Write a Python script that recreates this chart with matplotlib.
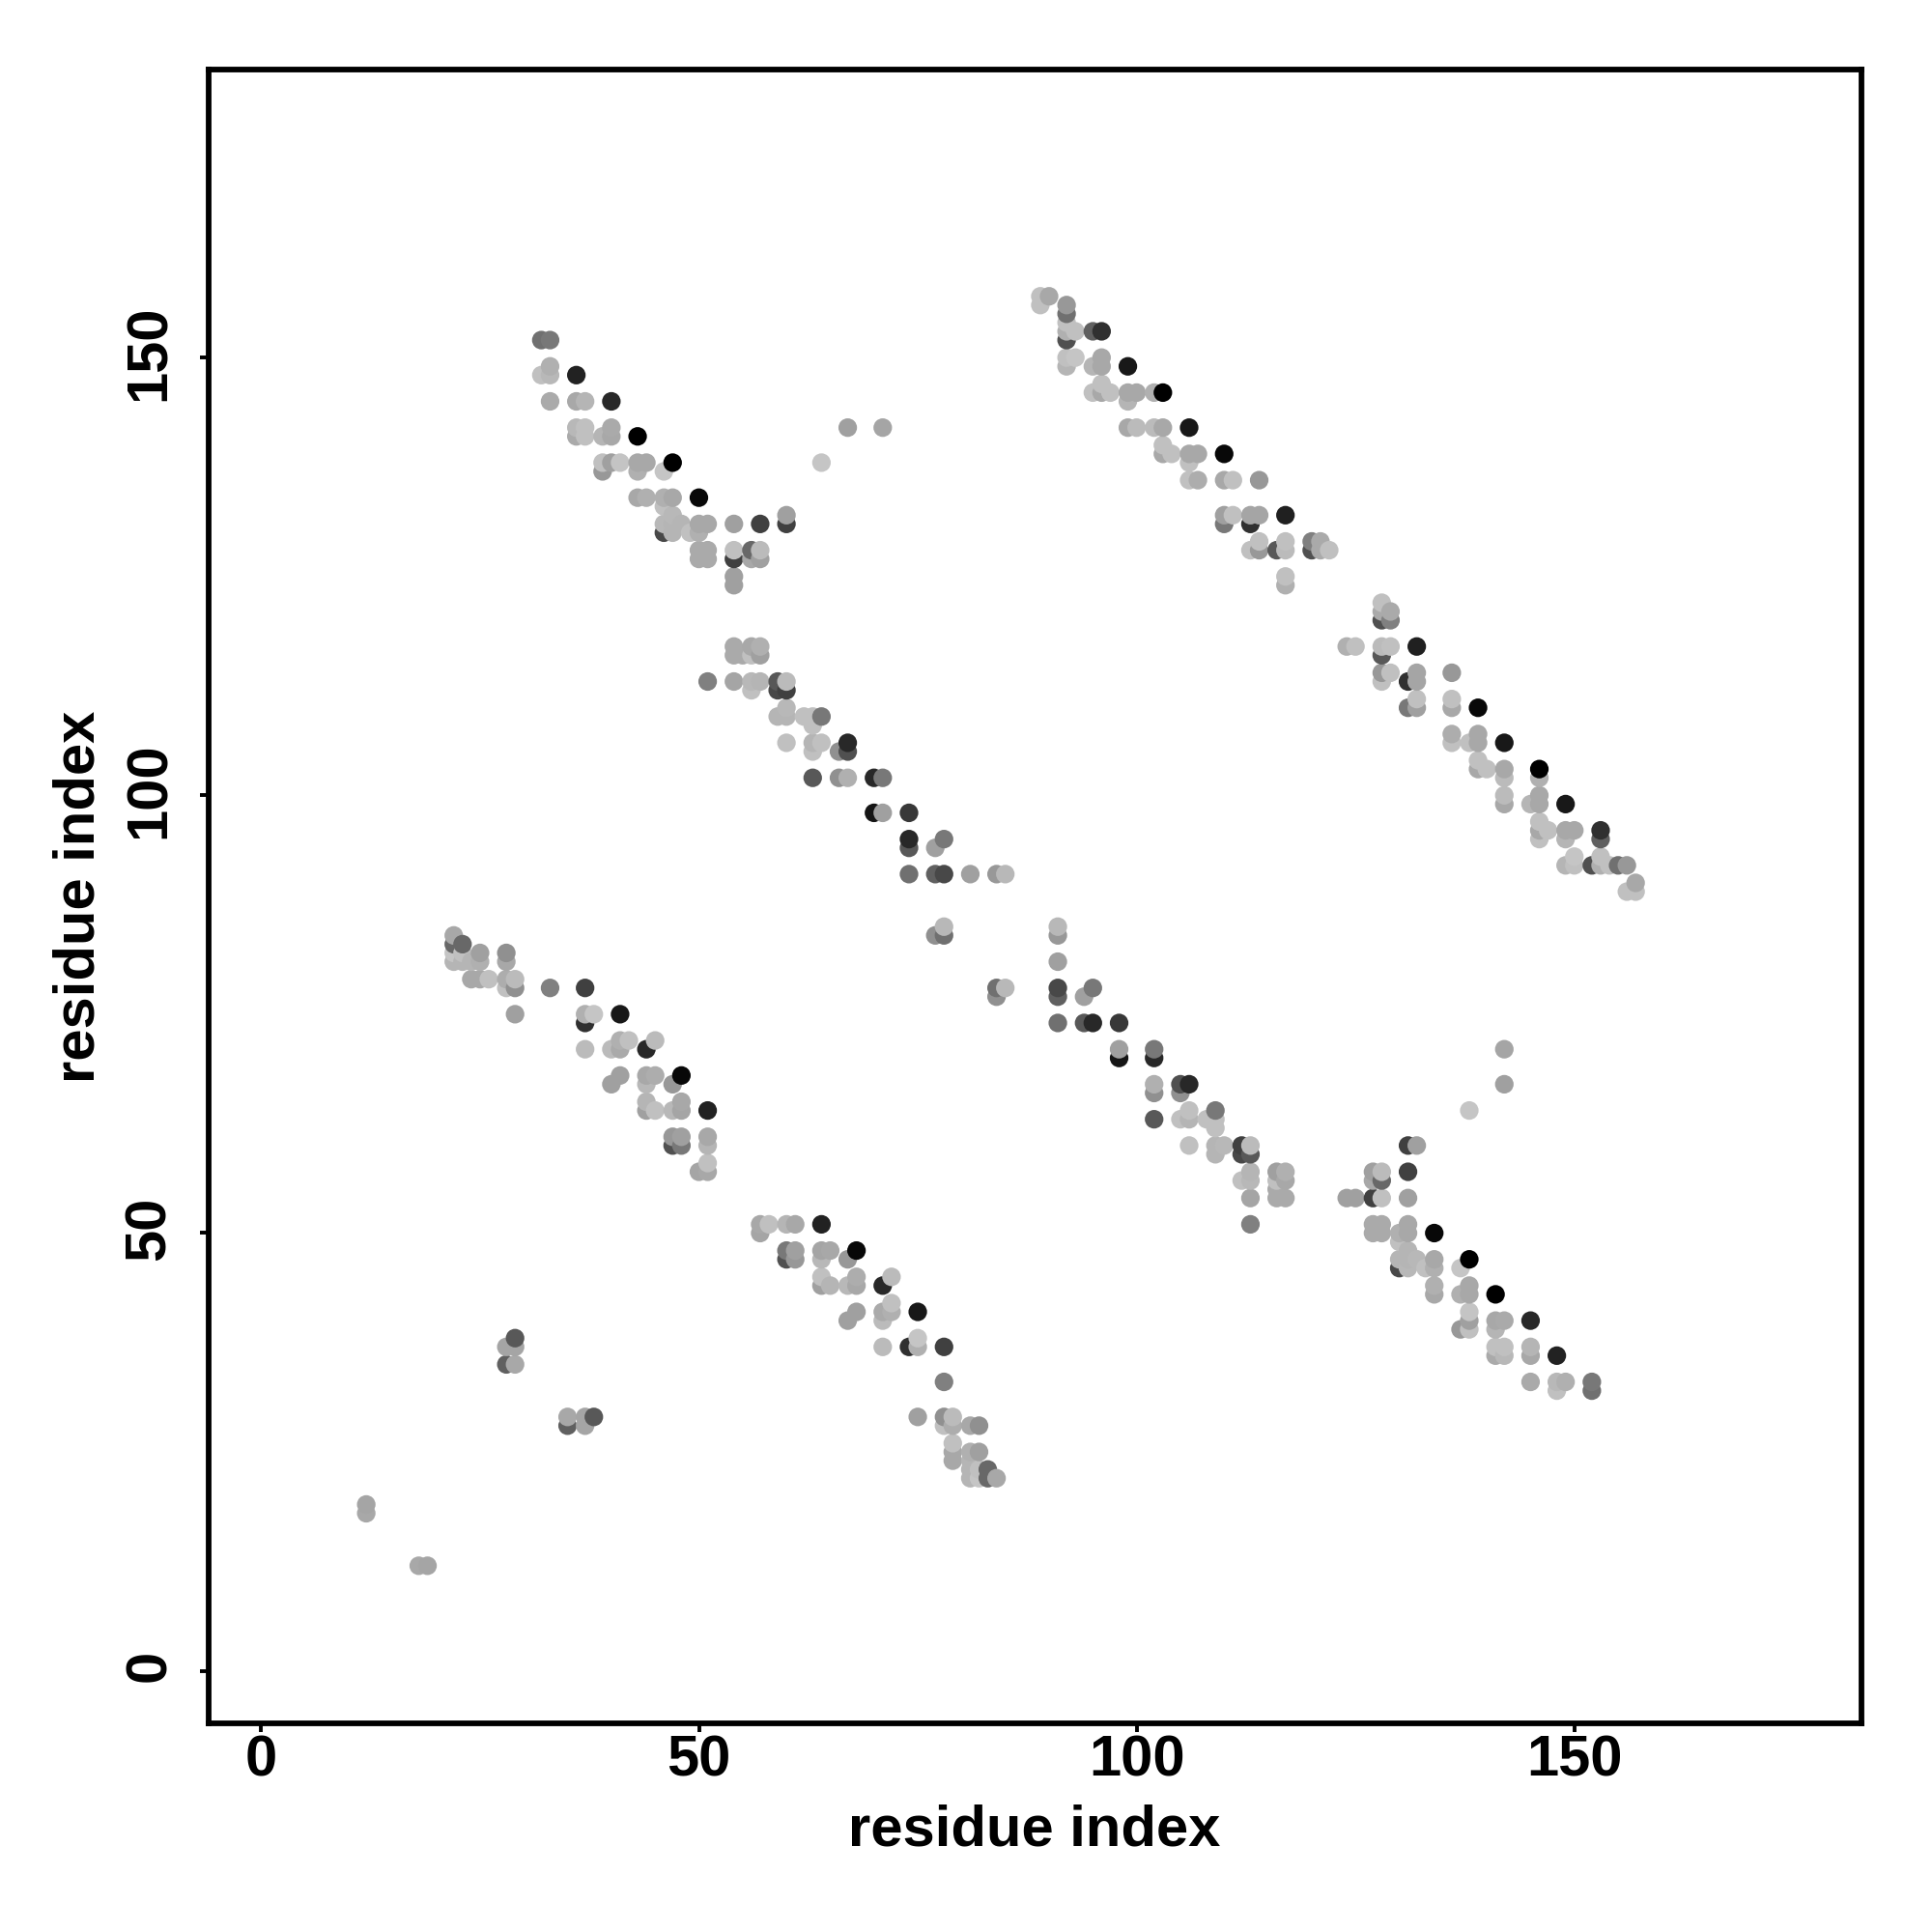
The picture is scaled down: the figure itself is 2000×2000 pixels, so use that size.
"""Residue contact map, drawn from the upper-triangle contacts and their mirror."""

import matplotlib

matplotlib.use("Agg")
import matplotlib.pyplot as plt
import matplotlib.transforms as mtransforms
import numpy as np

tick_values = [0, 50, 100, 150]
axis_label = "residue index"

# contacts per block, one source line per row of the map; gray is 0-255
small_i = [12, 12, 28, 28, 29, 29, 29]
small_j = [18, 19, 35, 37, 35, 37, 38]
small_gray = [0xa8, 0xa5, 0x60, 0xa5, 0xa8, 0xa5, 0x58]

block_a_i = [
    32, 33,
    33,
    32, 33, 36,
    33, 36, 37, 40,
    36, 37, 40, 67, 71,
    36, 37, 39, 40, 43,
    39, 40, 41, 43, 44, 47, 64,
    39, 43, 46,
    43, 44, 46, 47, 50,
    46,
    47, 60,
    46, 47, 48, 50, 51, 54, 57, 60,
    46, 47, 49, 50,
    50, 51, 54, 56, 57,
    50, 51, 54, 56, 57,
    54,
    54,
]
block_a_j = [
    152, 152,
    149,
    148, 148, 148,
    145, 145, 145, 145,
    142, 142, 142, 142, 142,
    141, 141, 141, 141, 141,
    138, 138, 138, 138, 138, 138, 138,
    137, 137, 137,
    134, 134, 134, 134, 134,
    133,
    132, 132,
    131, 131, 131, 131, 131, 131, 131, 131,
    130, 130, 130, 130,
    128, 128, 128, 128, 128,
    127, 127, 127, 127, 127,
    125,
    124,
]
block_a_gray = [
    0x70, 0x78,
    0xb0,
    0xc0, 0xb8, 0x22,
    0xaa, 0xa8, 0xb5, 0x28,
    0xb8, 0xc0, 0xaa, 0xa0, 0xa5,
    0xaa, 0xc0, 0xb5, 0xa8, 0x00,
    0xc0, 0xa0, 0xc4, 0xa8, 0xa8, 0x00, 0xc5,
    0x98, 0xb0, 0xc5,
    0xa8, 0xb0, 0xb0, 0xa8, 0x08,
    0xc0,
    0xb8, 0xa0,
    0xb8, 0xb5, 0xb5, 0xa8, 0xa8, 0xa0, 0x40, 0x40,
    0x48, 0xb5, 0xc0, 0xb0,
    0xaa, 0xaa, 0xc0, 0x68, 0xbb,
    0xaa, 0xaa, 0x40, 0xa8, 0xa0,
    0xa0,
    0xa0,
]

block_b_i = [
    54, 56, 57,
    54, 55, 56, 57,
    51, 54, 56, 57, 59, 60,
    56, 59, 60,
    60,
    59, 60, 62, 63, 64,
    63,
    60, 63, 64, 67,
    63, 66, 67,
    63, 66, 67, 70, 71,
    70, 71, 74,
    74, 78,
    74, 77,
    74, 77, 78, 81, 84, 85,
    78, 78, 77,
]
block_b_j = [
    117, 117, 117,
    116, 116, 116, 116,
    113, 113, 113, 113, 113, 113,
    112, 112, 112,
    110,
    109, 109, 109, 109, 109,
    108,
    106, 106, 106, 106,
    105, 105, 105,
    102, 102, 102, 102, 102,
    98, 98, 98,
    95, 95,
    94, 94,
    91, 91, 91, 91, 91, 91,
    85, 84, 84,
]
block_b_gray = [
    0xaa, 0xa8, 0xb0,
    0xaa, 0xaa, 0xc0, 0xa0,
    0x80, 0xa5, 0xb8, 0xb5, 0x58, 0xbb,
    0xc0, 0x48, 0x40,
    0xb8,
    0xb5, 0xb5, 0xc0, 0xc0, 0x78,
    0xc0,
    0xc0, 0xb5, 0xc0, 0x28,
    0xc0, 0x90, 0x50,
    0x58, 0x90, 0xb0, 0x28, 0x78,
    0x15, 0xa0, 0x38,
    0x28, 0x78,
    0x58, 0xa0,
    0x70, 0x60, 0x48, 0xa0, 0x98, 0xb8,
    0xb8, 0x70, 0x90,
]

block_c_i = [
    89, 90,
    89, 92,
    92, 92, 93, 95, 96,
    92, 92,
    92, 93, 96,
    92, 95, 96, 99,
    96,
    95, 96, 97, 99, 100, 102, 103,
    99,
    99, 100, 102, 103, 106,
    103,
    103, 104, 106, 107, 110,
    106,
    106, 107, 110, 111, 114,
    110, 111, 113, 114, 117,
    110, 113,
    114, 117, 120, 121,
    113, 114, 116, 117, 120, 121, 122,
    117,
    117,
]
block_c_j = [
    157, 157,
    156, 156,
    155, 154, 153, 153, 153,
    153, 152,
    150, 150, 150,
    149, 149, 149, 149,
    147,
    146, 146, 146, 146, 146, 146, 146,
    145,
    142, 142, 142, 142, 142,
    140,
    139, 139, 139, 139, 139,
    138,
    136, 136, 136, 136, 136,
    132, 132, 132, 132, 132,
    131, 131,
    129, 129, 129, 129,
    128, 128, 128, 128, 128, 128, 128,
    125,
    124,
]
block_c_gray = [
    0xc0, 0xa8,
    0xc0, 0x98,
    0x70, 0xc0, 0xc0, 0x60, 0x30,
    0xb0, 0x50,
    0xc0, 0xc5, 0xa8,
    0xb5, 0xb5, 0xa8, 0x18,
    0xc0,
    0xc0, 0xa8, 0xc0, 0xa8, 0xa8, 0xb0, 0x00,
    0xb5,
    0xa8, 0xbb, 0xbb, 0xa8, 0x18,
    0xc0,
    0xa8, 0xc0, 0xa8, 0xa8, 0x08,
    0xc0,
    0xc0, 0xad, 0xa8, 0xc0, 0x98,
    0xa0, 0xc0, 0xa5, 0xa5, 0x20,
    0x78, 0x30,
    0xc0, 0xc0, 0x80, 0xaa,
    0xc0, 0x98, 0x58, 0xbb, 0x50, 0xaa, 0xc0,
    0xc0,
    0xb0,
]

block_d_i = [
    22,
    22, 23,
    22, 23, 25, 28,
    22, 23, 24, 25, 28,
    24, 25, 26, 28, 29,
    28, 29, 33, 37,
    29, 37, 38, 41,
    37,
    41, 42, 45,
    37, 40, 41, 44,
    41, 44, 45, 48,
    40, 44, 47,
    44, 48,
    44, 45, 47, 48, 51,
    47, 48, 51,
    47, 48, 51,
    51,
    50, 51,
]
block_d_j = [
    84,
    83, 83,
    82, 82, 82, 82,
    81, 81, 81, 81, 81,
    79, 79, 79, 79, 79,
    78, 78, 78, 78,
    75, 75, 75, 75,
    74,
    72, 72, 72,
    71, 71, 71, 71,
    68, 68, 68, 68,
    67, 67, 67,
    65, 65,
    64, 64, 64, 64, 64,
    61, 61, 61,
    60, 60, 60,
    58,
    57, 57,
]
block_d_gray = [
    0xa8,
    0x68, 0x68,
    0xc5, 0xc0, 0xa0, 0x90,
    0xb5, 0xb5, 0xb5, 0xb0, 0xa8,
    0xa8, 0xa8, 0xc0, 0xad, 0xbb,
    0xc0, 0x90, 0x80, 0x40,
    0xa0, 0xb0, 0xc5, 0x18,
    0x30,
    0xb0, 0xc0, 0xbb,
    0xbb, 0xbb, 0xaa, 0x28,
    0xa0, 0xa8, 0xad, 0x08,
    0xa0, 0xb8, 0x98,
    0xb5, 0xa8,
    0xa0, 0xc0, 0xb8, 0xa5, 0x22,
    0x98, 0xa0, 0xa8,
    0x50, 0x78, 0xb5,
    0xc0,
    0xa5, 0xa8,
]

upper_i = np.array(small_i + block_a_i + block_b_i + block_c_i + block_d_i)
upper_j = np.array(small_j + block_a_j + block_b_j + block_c_j + block_d_j)
upper_gray = np.array(small_gray + block_a_gray + block_b_gray + block_c_gray + block_d_gray)

# the map is symmetric, every contact shows up on both sides of the diagonal
x = np.concatenate([upper_i, upper_j])
y = np.concatenate([upper_j, upper_i])
shade = np.concatenate([upper_gray, upper_gray]) / 255

# later points sit on top: the original ran through x, then y
order = np.lexsort((y, x))
colors = [str(round(float(s), 3)) for s in shade[order]]

plt.rcParams["font.family"] = ["Liberation Sans", "DejaVu Sans"]
plt.rcParams["font.weight"] = "bold"

fig = plt.figure(figsize=(10, 10), dpi=200)
ax = fig.add_axes([216 / 2000, 216 / 2000, 1711 / 2000, 1712 / 2000])
ax.scatter(x[order], y[order], s=48, c=colors, linewidths=0, zorder=3)

ax.set_xlim(-6, 182.8)
ax.set_ylim(-6, 182.9)
ax.set_xticks(tick_values)
ax.set_yticks(tick_values)
ax.tick_params(axis="x", length=3.2, width=1.4, labelsize=21.5, pad=1)
ax.tick_params(axis="y", length=3.4, width=1.4, labelsize=21.5, pad=8.5)
# rotated labels land a little low, nudge them back onto their ticks
nudge = mtransforms.ScaledTranslation(0, 1.8 / 72, fig.dpi_scale_trans)
for label in ax.get_yticklabels():
    label.set_rotation(90)
    label.set_va("center")
    label.set_transform(label.get_transform() + nudge)
for side in ax.spines.values():
    side.set_linewidth(2.1)

ax.set_xlabel(axis_label, fontsize=21.5, fontweight="bold", va="center")
ax.set_ylabel(axis_label, fontsize=21.5, fontweight="bold", va="center")
ax.xaxis.set_label_coords(0.4997, -0.065)
ax.yaxis.set_label_coords(-0.0785, 0.5)

fig.savefig("out.png", dpi=200)
plt.close(fig)
